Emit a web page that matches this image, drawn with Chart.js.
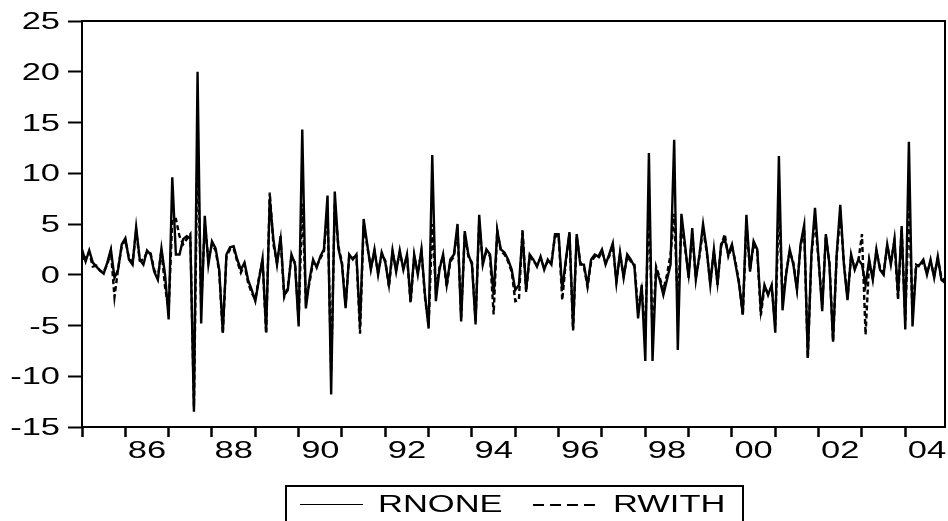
<!DOCTYPE html>
<html>
<head>
<meta charset="utf-8">
<script src="https://cdn.jsdelivr.net/npm/chart.js@4.4.0/dist/chart.umd.min.js"></script>
<style>
  body { margin: 0; background: #fff; }
  #wrap { position: relative; width: 948px; height: 521px; overflow: hidden; }
  #legend { position: absolute; left: 285px; top: 485px; width: 459px; height: 50px; border: 2px solid #000; box-sizing: border-box; }
  .lg { position: absolute; font: 23px "Liberation Sans", Arial, sans-serif; line-height: 23px; color: #000; transform: scaleX(1.5); transform-origin: left center; white-space: nowrap; }
  .solid { position: absolute; height: 0; border-top: 1.5px solid #000; }
  .dash { position: absolute; height: 1.5px; background: repeating-linear-gradient(to right, #000 0 11px, transparent 11px 17px); }
</style>
</head>
<body>
<div id="wrap">
  <canvas id="grafico" width="948" height="521"></canvas>
  <div id="legend"></div>
  <div class="solid" style="left:300px; top:504px; width:63px;"></div>
  <div class="lg" style="left:378px; top:493px;">RNONE</div>
  <div class="dash" style="left:533px; top:504px; width:66px;"></div>
  <div class="lg" style="left:613px; top:493px;">RWITH</div>
</div>
<script>
// monthly series, Jan 1985 .. Dec 2004
const startYear = 1985;
const rnone = [
  2.5, 1.3, 2.4, 1.2, 0.8, 0.4, 0.1, 1.2, 2.5, -0.3, 0.5, 3.0,
  3.6, 1.5, 1.0, 4.7, 1.5, 1.0, 2.4, 2.0, 0.3, -0.5, 2.6, 0.0,
  -4.4, 9.6, 2.0, 2.0, 3.5, 3.8, 3.6, -13.5, 20.0, -4.8, 5.8, 1.0,
  3.3, 2.6, 0.5, -5.7, 2.0, 2.7, 2.8, 1.5, 0.5, 1.2, -0.5, -1.5,
  -2.6, -0.5, 1.6, -5.6, 7.5, 3.5, 1.0, 3.8, -2.0, -1.5, 2.0, 1.0,
  -5.1, 14.3, -3.3, -0.5, 1.5, 0.7, 1.8, 2.5, 7.8, -11.8, 8.2, 2.6,
  1.0, -3.3, 2.0, 1.5, 2.0, -5.0, 5.5, 3.0, 0.5, 2.5, 0.0, 2.2,
  1.2, -1.0, 2.4, 0.3, 2.4, 0.5, 2.0, -2.6, 2.0, 0.0, 2.5, -2.0,
  -5.3, 11.8, -2.6, 0.5, 2.0, -1.0, 1.5, 2.0, 5.0, -4.6, 4.3, 2.0,
  1.0, -4.9, 5.9, 1.0, 2.5, 2.0, -2.0, 4.3, 2.5, 2.2, 1.5, 0.5,
  -1.5, -1.0, 4.0, -1.5, 2.0, 1.5, 0.8, 1.8, 0.5, 1.5, 1.0, 4.0,
  4.0, -1.5, 1.5, 4.2, -5.3, 4.0, 1.0, 1.0, -1.0, 1.5, 2.0, 1.8,
  2.5, 1.0, 2.0, 3.1, -0.8, 2.2, -0.3, 2.0, 1.5, 0.8, -4.3, -1.0,
  -8.5, 12.0, -8.5, 0.5, -0.5, -2.0, -0.5, 1.0, 13.3, -7.4, 6.0, 3.0,
  -0.3, 4.6, -0.5, 2.0, 5.0, 2.5, -1.0, 2.5, -1.0, 3.0, 3.5, 2.0,
  3.0, 1.0, -1.0, -3.9, 5.9, 0.3, 3.3, 2.5, -3.5, -1.0, -2.0, -1.0,
  -5.7, 11.7, -3.5, 0.0, 2.5, 1.0, -1.5, 3.0, 4.9, -8.2, 2.0, 6.6,
  1.5, -3.6, 4.0, 1.0, -6.6, 2.0, 6.9, 1.0, -2.5, 2.0, 0.5, 1.5,
  1.0, -1.0, 1.5, -0.5, 2.5, 0.5, 0.0, 3.0, 1.0, 3.5, -2.0, 4.8,
  -5.4, 13.1, -5.1, 0.8, 1.0, 1.5, 0.0, 1.5, -0.3, 1.8, -0.5, -0.8
];
const rwith = [
  1.5, 1.8, 2.2, 0.8, 0.9, 0.4, 0.3, 1.0, 2.3, -2.2, 0.6, 2.8,
  3.4, 1.7, 1.2, 4.3, 1.4, 1.5, 2.2, 2.1, 0.5, -0.3, 2.4, -1.2,
  -3.5, 5.5, 5.5, 3.8, 3.0, 3.5, 4.0, -13.0, 13.0, -3.0, 5.0, 1.5,
  3.0, 2.4, 0.3, -5.8, 1.8, 2.5, 2.6, 1.3, 0.2, 1.0, -0.8, -1.8,
  -2.4, -0.3, 1.4, -5.8, 8.1, 3.0, 1.2, 3.5, -2.2, -1.2, 1.8, 1.2,
  -4.5, 7.0, -2.5, -0.8, 1.3, 0.9, 1.6, 2.3, 6.5, -9.5, 7.0, 2.8,
  1.2, -3.0, 1.8, 1.7, 1.8, -5.8, 5.0, 2.8, 0.7, 2.3, 0.2, 2.0,
  1.4, -1.2, 2.2, 0.5, 2.2, 0.7, 1.8, -2.8, 1.8, 0.2, 2.3, -2.3,
  -5.0, 5.0, -1.5, 0.7, 1.8, -1.2, 1.3, 1.8, 4.5, -4.2, 4.0, 1.8,
  1.2, -4.5, 5.2, 1.2, 2.3, 1.8, -3.9, 4.4, 2.3, 2.0, 1.3, 0.3,
  -2.6, -2.5, 4.5, -1.7, 1.8, 1.3, 1.0, 1.6, 0.7, 1.3, 1.2, 3.8,
  3.8, -2.5, 1.3, 4.0, -5.5, 3.8, 1.2, 0.8, -1.2, 1.3, 1.8, 1.6,
  2.3, 1.2, 1.8, 2.9, -0.6, 2.0, -0.1, 1.8, 1.3, 1.0, -3.5, -1.5,
  -5.5, 7.0, -6.0, 0.8, -0.3, -1.5, 0.0, 2.0, 6.0, -3.0, 5.0, 2.6,
  0.0, 4.0, -0.3, 1.8, 4.5, 2.3, -0.8, 2.3, -0.8, 2.8, 4.0, 1.8,
  2.8, 1.2, -0.8, -4.0, 5.0, 0.5, 3.0, 2.3, -4.0, -1.2, -1.8, -1.2,
  -5.0, 7.0, -2.5, 0.2, 2.3, 1.2, -1.3, 2.8, 4.5, -8.2, 1.8, 5.5,
  1.3, -3.0, 3.8, 1.2, -6.5, 1.8, 6.0, 1.2, -2.3, 1.8, 0.7, 1.3,
  4.0, -5.9, 1.3, -0.3, 2.3, 0.7, 0.2, 2.8, 1.2, 3.3, -2.5, 4.5,
  -4.5, 7.0, -4.0, 1.0, 0.8, 1.3, 0.2, 1.3, -0.1, 1.6, -0.3, -0.6
];
const yearTicks = [];
for (let y = 1985; y <= 2004; y++) yearTicks.push(y);
const yearLabels = ['86', '88', '90', '92', '94', '96', '98', '00', '02', '04'];
const yTicks = [-15, -10, -5, 0, 5, 10, 15, 20, 25];

const fonte = '23px "Liberation Sans", Arial, sans-serif';
const esticar = 1.5; // o original tem o texto esticado na horizontal

function pontos(serie) {
  return serie.map((v, i) => ({ x: startYear + i / 12, y: v }));
}

// moldura e rótulos dos eixos
const moldura = {
  id: 'moldura',
  afterDraw(chart) {
    const a = chart.chartArea;
    const c = chart.ctx;
    const sx = chart.scales.x;
    const sy = chart.scales.y;
    c.save();
    c.strokeStyle = '#000';
    c.lineWidth = 2;
    c.strokeRect(a.left, a.top, a.right - a.left, a.bottom - a.top);

    c.fillStyle = '#000';
    c.font = fonte;
    c.textBaseline = 'alphabetic';
    yTicks.forEach(v => {
      c.save();
      c.translate(a.left - 22, sy.getPixelForValue(v) + 8);
      c.scale(esticar, 1);
      c.textAlign = 'right';
      c.fillText(String(v), 0, 0);
      c.restore();
    });
    yearLabels.forEach((lab, k) => {
      const ano = 1986 + 2 * k;
      c.save();
      c.translate(sx.getPixelForValue(ano + 0.5), a.bottom + 31);
      c.scale(esticar, 1);
      c.textAlign = 'center';
      c.fillText(lab, 0, 0);
      c.restore();
    });
    c.restore();
  }
};

window.addEventListener('load', () => {
  const ctx = document.getElementById('grafico').getContext('2d');
  new Chart(ctx, {
    type: 'line',
    data: {
      datasets: [{
        label: 'RNONE',
        data: pontos(rnone),
        borderColor: '#000',
        borderWidth: 2.4,
        pointRadius: 0,
        tension: 0
      }, {
        label: 'RWITH',
        data: pontos(rwith),
        borderColor: '#000',
        borderWidth: 2.4,
        borderDash: [5, 3],
        pointRadius: 0,
        tension: 0
      }]
    },
    options: {
      responsive: false,
      animation: false,
      layout: { padding: { top: 21, right: 3, left: 0, bottom: 0 } },
      plugins: { legend: { display: false }, tooltip: { enabled: false } },
      scales: {
        x: {
          type: 'linear',
          min: startYear,
          max: startYear + (rnone.length - 1) / 12,
          afterBuildTicks: s => { s.ticks = yearTicks.map(v => ({ value: v })); },
          afterFit: s => { s.height = 94; },
          border: { display: false },
          grid: { drawOnChartArea: false, tickLength: 10, tickColor: '#000', tickWidth: 2.5 },
          ticks: { display: false }
        },
        y: {
          min: -15,
          max: 25,
          afterBuildTicks: s => { s.ticks = yTicks.map(v => ({ value: v })); },
          afterFit: s => { s.width = 82; },
          border: { display: false },
          grid: { drawOnChartArea: false, tickLength: 14, tickColor: '#000', tickWidth: 2 },
          ticks: { display: false }
        }
      }
    },
    plugins: [moldura]
  });
});
</script>
</body>
</html>
